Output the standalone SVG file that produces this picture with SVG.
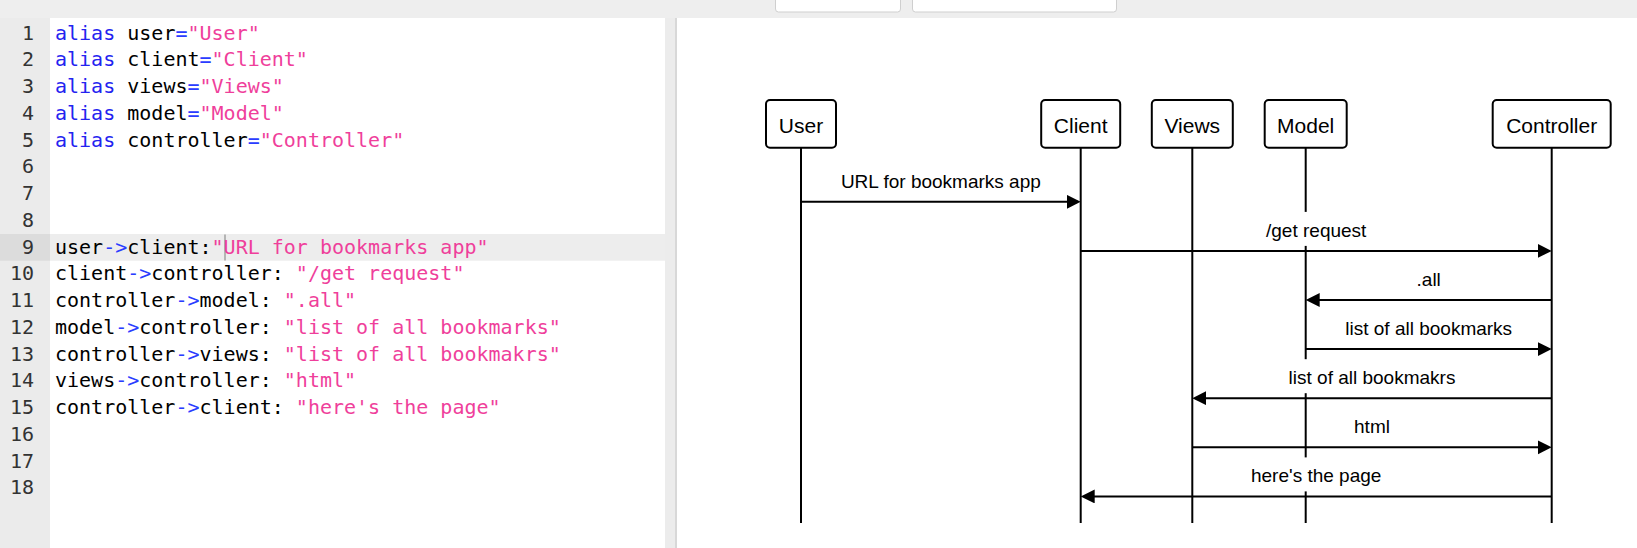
<svg xmlns="http://www.w3.org/2000/svg" width="1637" height="548" viewBox="0 0 1637 548">
<style>
.code{font-family:"DejaVu Sans Mono","Liberation Mono",monospace;font-size:20px;fill:#000}
.ln{font-family:"DejaVu Sans Mono","Liberation Mono",monospace;font-size:20px;fill:#333;text-anchor:end}
.k{fill:#2323f0}
.o{fill:#2a3cff}
.s{fill:#ef3f9b}
.box{fill:#fff;stroke:#000;stroke-width:2}
.actor{font-family:"Liberation Sans",Arial,sans-serif;font-size:21px;fill:#000;text-anchor:middle}
.life{stroke:#000;stroke-width:2}
.msg{stroke:#000;stroke-width:2;fill:none}
.lblbg{fill:#fff}
.lbl{font-family:"Liberation Sans",Arial,sans-serif;font-size:19px;fill:#000;text-anchor:middle}
.btn{fill:#fff;stroke:#cfcfcf;stroke-width:1}
</style>
<defs>
<marker id="ah" markerUnits="userSpaceOnUse" markerWidth="15" markerHeight="15" refX="11" refY="7" orient="auto">
<path d="M0,0 L14,7 L0,14 Z" fill="#000"/>
</marker>
</defs>

<!-- page background -->
<rect x="0" y="0" width="1637" height="548" fill="#fff"/>
<!-- top bar -->
<rect x="0" y="0" width="1637" height="18" fill="#eeeeee"/>
<rect class="btn" x="775.5" y="-5" width="125" height="17" rx="3"/>
<rect class="btn" x="912.5" y="-5" width="204" height="17" rx="3"/>

<!-- editor -->
<g id="editor">
<rect x="0" y="18" width="50" height="530" fill="#ebebeb"/>
<rect x="50" y="18" width="615" height="530" fill="#fff"/>
<rect x="665" y="18" width="10" height="530" fill="#ececec"/>
<rect x="675" y="18" width="2" height="530" fill="#d8d8d8"/>
<rect x="0" y="234" width="50" height="26.7" fill="#dcdcdc"/>
<rect x="50" y="234" width="615" height="26.7" fill="#ededed"/>
<line x1="225" y1="234.5" x2="225" y2="260.5" stroke="#a0a0a0" stroke-width="1.5"/>

<text class="ln" x="34" y="39.5">1</text>
<text class="ln" x="34" y="66.25">2</text>
<text class="ln" x="34" y="93">3</text>
<text class="ln" x="34" y="119.75">4</text>
<text class="ln" x="34" y="146.5">5</text>
<text class="ln" x="34" y="173.25">6</text>
<text class="ln" x="34" y="200">7</text>
<text class="ln" x="34" y="226.75">8</text>
<text class="ln" x="34" y="253.5">9</text>
<text class="ln" x="34" y="280.25">10</text>
<text class="ln" x="34" y="307">11</text>
<text class="ln" x="34" y="333.75">12</text>
<text class="ln" x="34" y="360.5">13</text>
<text class="ln" x="34" y="387.25">14</text>
<text class="ln" x="34" y="414">15</text>
<text class="ln" x="34" y="440.75">16</text>
<text class="ln" x="34" y="467.5">17</text>
<text class="ln" x="34" y="494.25">18</text>

<text class="code" x="55" y="39.5" xml:space="preserve"><tspan class="k">alias</tspan> user<tspan class="o">=</tspan><tspan class="s">"User"</tspan></text>
<text class="code" x="55" y="66.25" xml:space="preserve"><tspan class="k">alias</tspan> client<tspan class="o">=</tspan><tspan class="s">"Client"</tspan></text>
<text class="code" x="55" y="93" xml:space="preserve"><tspan class="k">alias</tspan> views<tspan class="o">=</tspan><tspan class="s">"Views"</tspan></text>
<text class="code" x="55" y="119.75" xml:space="preserve"><tspan class="k">alias</tspan> model<tspan class="o">=</tspan><tspan class="s">"Model"</tspan></text>
<text class="code" x="55" y="146.5" xml:space="preserve"><tspan class="k">alias</tspan> controller<tspan class="o">=</tspan><tspan class="s">"Controller"</tspan></text>
<text class="code" x="55" y="253.5" xml:space="preserve">user<tspan class="o">-&gt;</tspan>client:<tspan class="s">"URL for bookmarks app"</tspan></text>
<text class="code" x="55" y="280.25" xml:space="preserve">client<tspan class="o">-&gt;</tspan>controller: <tspan class="s">"/get request"</tspan></text>
<text class="code" x="55" y="307" xml:space="preserve">controller<tspan class="o">-&gt;</tspan>model: <tspan class="s">".all"</tspan></text>
<text class="code" x="55" y="333.75" xml:space="preserve">model<tspan class="o">-&gt;</tspan>controller: <tspan class="s">"list of all bookmarks"</tspan></text>
<text class="code" x="55" y="360.5" xml:space="preserve">controller<tspan class="o">-&gt;</tspan>views: <tspan class="s">"list of all bookmakrs"</tspan></text>
<text class="code" x="55" y="387.25" xml:space="preserve">views<tspan class="o">-&gt;</tspan>controller: <tspan class="s">"html"</tspan></text>
<text class="code" x="55" y="414" xml:space="preserve">controller<tspan class="o">-&gt;</tspan>client: <tspan class="s">"here's the page"</tspan></text>
</g>

<!-- lifelines -->
<g id="lifelines">
<line class="life" x1="801" y1="147.7" x2="801" y2="523"/>
<line class="life" x1="1080.7" y1="147.7" x2="1080.7" y2="523"/>
<line class="life" x1="1192.3" y1="147.7" x2="1192.3" y2="523"/>
<line class="life" x1="1305.7" y1="147.7" x2="1305.7" y2="523"/>
<line class="life" x1="1551.7" y1="147.7" x2="1551.7" y2="523"/>
</g>

<!-- actors -->
<g id="user">
<rect class="box" x="766" y="100" width="70" height="47.7" rx="4"/>
<text class="actor" x="801" y="133">User</text>
</g>
<g id="client">
<rect class="box" x="1041.2" y="100" width="79" height="47.7" rx="4"/>
<text class="actor" x="1080.7" y="133">Client</text>
</g>
<g id="views">
<rect class="box" x="1151.8" y="100" width="81" height="47.7" rx="4"/>
<text class="actor" x="1192.3" y="133">Views</text>
</g>
<g id="model">
<rect class="box" x="1264.7" y="100" width="82" height="47.7" rx="4"/>
<text class="actor" x="1305.7" y="133">Model</text>
</g>
<g id="controller">
<rect class="box" x="1492.7" y="100" width="118" height="47.7" rx="4"/>
<text class="actor" x="1551.7" y="133">Controller</text>
</g>

<!-- messages -->
<g id="connectors">
<rect class="lblbg" x="836.4" y="162.8" width="209" height="34"/>
<text class="lbl" x="940.85" y="187.8">URL for bookmarks app</text>
<line class="msg" x1="801" y1="201.8" x2="1077.7" y2="201.8" marker-end="url(#ah)"/>

<rect class="lblbg" x="1261.7" y="211.9" width="109" height="34"/>
<text class="lbl" x="1316.2" y="236.9">/get request</text>
<line class="msg" x1="1080.7" y1="250.9" x2="1548.7" y2="250.9" marker-end="url(#ah)"/>

<rect class="lblbg" x="1412.2" y="261" width="33" height="34"/>
<text class="lbl" x="1428.7" y="286">.all</text>
<line class="msg" x1="1551.7" y1="300" x2="1308.7" y2="300" marker-end="url(#ah)"/>

<rect class="lblbg" x="1341.2" y="310.1" width="175" height="34"/>
<text class="lbl" x="1428.7" y="335.1">list of all bookmarks</text>
<line class="msg" x1="1305.7" y1="349.1" x2="1548.7" y2="349.1" marker-end="url(#ah)"/>

<rect class="lblbg" x="1284.5" y="359.2" width="175" height="34"/>
<text class="lbl" x="1372" y="384.2">list of all bookmakrs</text>
<line class="msg" x1="1551.7" y1="398.2" x2="1195.3" y2="398.2" marker-end="url(#ah)"/>

<rect class="lblbg" x="1350" y="408.3" width="44" height="34"/>
<text class="lbl" x="1372" y="433.3">html</text>
<line class="msg" x1="1192.3" y1="447.3" x2="1548.7" y2="447.3" marker-end="url(#ah)"/>

<rect class="lblbg" x="1246.7" y="457.4" width="139" height="34"/>
<text class="lbl" x="1316.2" y="482.4">here's the page</text>
<line class="msg" x1="1551.7" y1="496.4" x2="1083.7" y2="496.4" marker-end="url(#ah)"/>
</g>
</svg>
